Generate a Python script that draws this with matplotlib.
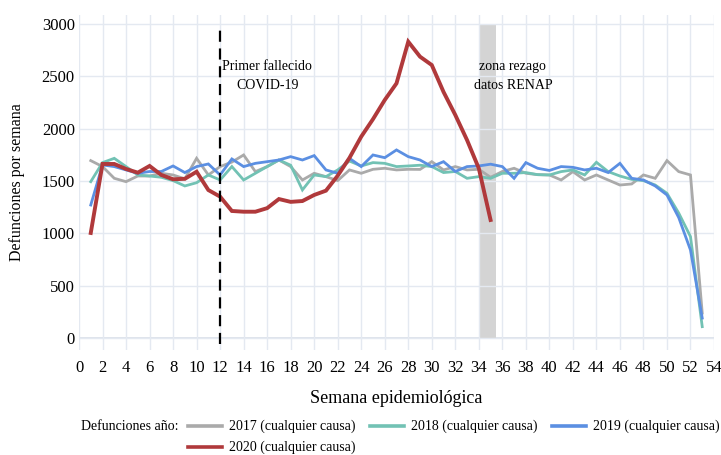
import matplotlib
matplotlib.use("Agg")
import matplotlib.pyplot as plt
from matplotlib.lines import Line2D

plt.rcParams['font.family'] = ['Liberation Serif', 'DejaVu Serif']

weeks_full = list(range(1, 54))
weeks_2020 = list(range(1, 36))

d2017 = [1694, 1637, 1525, 1493, 1547, 1547, 1573, 1557, 1520, 1716, 1557, 1637, 1680, 1748,
         1589, 1637, 1700, 1637, 1509, 1573, 1541, 1503, 1605, 1573, 1611, 1621, 1605, 1611,
         1610, 1684, 1605, 1637, 1605, 1611, 1535, 1590, 1621, 1573, 1560, 1557, 1509, 1589,
         1509, 1557, 1509, 1461, 1471, 1557, 1525, 1694, 1589, 1557, 238]
d2018 = [1493, 1675, 1716, 1637, 1557, 1547, 1535, 1503, 1452, 1483, 1557, 1509, 1637, 1509,
         1573, 1637, 1700, 1650, 1414, 1557, 1541, 1605, 1690, 1643, 1675, 1668, 1637, 1643,
         1650, 1637, 1580, 1590, 1525, 1541, 1525, 1573, 1573, 1580, 1560, 1557, 1589, 1605,
         1557, 1678, 1589, 1547, 1515, 1503, 1461, 1382, 1193, 968, 108]
d2019 = [1270, 1653, 1637, 1605, 1573, 1590, 1590, 1643, 1580, 1637, 1662, 1557, 1710, 1637,
         1668, 1684, 1700, 1732, 1700, 1742, 1605, 1573, 1716, 1637, 1748, 1722, 1796, 1732,
         1700, 1637, 1684, 1590, 1637, 1643, 1660, 1637, 1525, 1675, 1621, 1600, 1637, 1630,
         1605, 1621, 1580, 1668, 1525, 1509, 1452, 1366, 1150, 840, 190]
d2020 = [1003, 1662, 1662, 1614, 1579, 1643, 1557, 1516, 1520, 1588, 1413, 1350, 1213, 1206,
         1206, 1240, 1327, 1300, 1308, 1366, 1407, 1550, 1720, 1923, 2090, 2273, 2432, 2830,
         2687, 2607, 2350, 2130, 1890, 1620, 1127]

labels = ["2017 (cualquier causa)", "2018 (cualquier causa)",
          "2019 (cualquier causa)", "2020 (cualquier causa)"]
colors = ["#aaaaaa", "#72c2b4", "#5b8fe2", "#b0393b"]
widths = [2.0, 2.0, 2.0, 2.8]

first_death_week = 12
lag_zone = (34, 35.5)
xticks = list(range(0, 55, 2))
yticks = [0, 500, 1000, 1500, 2000, 2500, 3000]

W, H = 721, 455
fig = plt.figure(figsize=(W / 100, H / 100), dpi=100)
ax = fig.add_axes([79 / W, 1 - 350 / H, (714 - 79) / W, (350 - 15) / H])
ax.set_xlim(0, 54)
ax.set_ylim(-115, 3085)

for s in ax.spines.values():
    s.set_visible(False)
ax.set_xticks(xticks)
ax.set_yticks(yticks)
ax.grid(True, color="#e4e9f1", linewidth=1.0, zorder=0)
ax.axhline(0, color="#d8dee8", linewidth=1.2, zorder=0.5)
ax.tick_params(length=0, labelsize=12)
ax.tick_params(axis='y', pad=3)
ax.tick_params(axis='x', pad=7)

ax.axvspan(lag_zone[0], lag_zone[1], ymin=(0 + 115) / 3200, ymax=(3000 + 115) / 3200,
           color="#d4d4d4", zorder=1, linewidth=0)

series = [(weeks_full, d2017), (weeks_full, d2018), (weeks_full, d2019), (weeks_2020, d2020)]
for (x, y), c, lw, lab in zip(series, colors, widths, labels):
    ax.plot(x, y, color=c, linewidth=lw, label=lab, zorder=3, solid_joinstyle='miter')

ax.plot([first_death_week, first_death_week], [-60, 2960], color="black", linewidth=1.6,
        linestyle=(0, (5, 3)), zorder=4)

ax.text(16.0, 2500, "Primer fallecido\nCOVID-19", ha="center", va="center", fontsize=10,
        linespacing=1.55, zorder=5)
ax.text(36.9, 2500, "zona rezago\ndatos RENAP", ha="center", va="center", fontsize=10,
        linespacing=1.55, zorder=5)

ax.set_xlabel("Semana epidemiológica", fontsize=13, labelpad=10)
ax.set_ylabel("Defunciones por semana", fontsize=11.5, labelpad=12)

# legend rows
fig.text(81 / W, 1 - 426 / H, "Defunciones año:", fontsize=10, va="center", ha="left")
pos = [(188, 426), (370, 426), (552, 426), (188, 447)]
for (px, py), c, lab in zip(pos, colors, labels):
    fig.add_artist(Line2D([px / W, (px + 34) / W], [1 - py / H, 1 - py / H],
                          color=c, linewidth=2.6, transform=fig.transFigure))
    fig.text((px + 41) / W, 1 - py / H, lab, fontsize=10, va="center", ha="left")

fig.savefig("out.png", dpi=100)
